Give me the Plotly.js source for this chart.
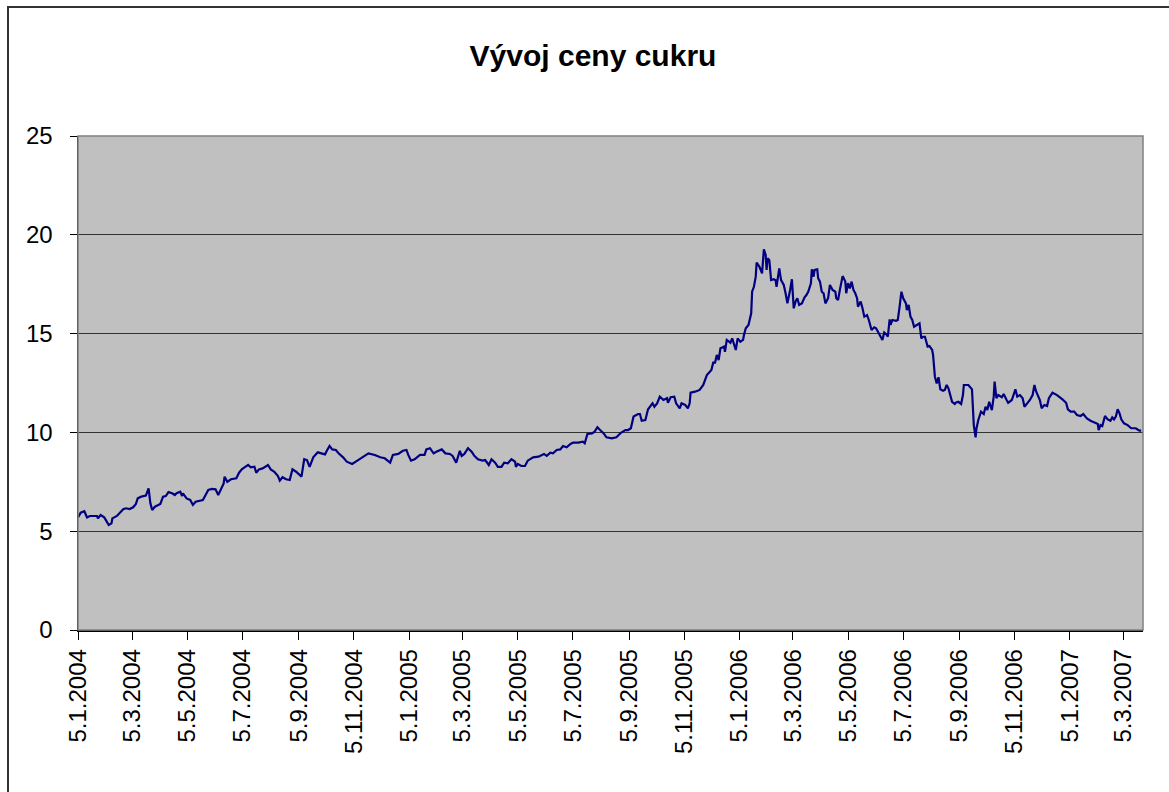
<!DOCTYPE html>
<html>
<head>
<meta charset="utf-8">
<script src="https://cdn.plot.ly/plotly-3.0.1.min.js"></script>
<style>
  html, body { margin: 0; padding: 0; background: #fff; }
  #chart { width: 1169px; height: 792px; }
</style>
</head>
<body>
<div id="chart"></div>
<script>
// cena cukru, values
const dates = [
  "2004-01-05","2004-01-08","2004-01-12","2004-01-15","2004-01-18","2004-01-26","2004-01-27","2004-01-30",
  "2004-02-03","2004-02-05","2004-02-08","2004-02-11","2004-02-12","2004-02-17","2004-02-20","2004-02-24","2004-02-27",
  "2004-03-02","2004-03-06","2004-03-09","2004-03-11","2004-03-15","2004-03-20","2004-03-23","2004-03-25","2004-03-27","2004-03-30",
  "2004-04-02","2004-04-05","2004-04-08","2004-04-11","2004-04-14","2004-04-18","2004-04-21","2004-04-23","2004-04-27","2004-04-29","2004-04-30",
  "2004-05-04","2004-05-08","2004-05-11","2004-05-14","2004-05-18","2004-05-22","2004-05-25","2004-05-28",
  "2004-06-01","2004-06-05","2004-06-08","2004-06-11","2004-06-14","2004-06-15","2004-06-18","2004-06-22","2004-06-28",
  "2004-07-01","2004-07-04","2004-07-07","2004-07-11","2004-07-14","2004-07-18","2004-07-20","2004-07-23","2004-07-27",
  "2004-08-02","2004-08-05","2004-08-09","2004-08-13","2004-08-15","2004-08-18","2004-08-22","2004-08-26","2004-08-29",
  "2004-09-02","2004-09-04","2004-09-08","2004-09-11","2004-09-14","2004-09-17","2004-09-21","2004-09-26","2004-09-30",
  "2004-10-04","2004-10-06","2004-10-09","2004-10-12","2004-10-16","2004-10-19","2004-10-24","2004-10-28",
  "2004-11-03","2004-11-07","2004-11-11","2004-11-17","2004-11-21","2004-11-28",
  "2004-12-04","2004-12-09","2004-12-12","2004-12-15","2004-12-18","2004-12-24","2004-12-29",
  "2005-01-02","2005-01-04","2005-01-07","2005-01-11","2005-01-17","2005-01-22","2005-01-24","2005-01-28",
  "2005-02-01","2005-02-04","2005-02-10","2005-02-14","2005-02-19","2005-02-22","2005-02-26",
  "2005-03-02","2005-03-04","2005-03-07","2005-03-11","2005-03-15","2005-03-18","2005-03-22","2005-03-27","2005-03-30",
  "2005-04-03","2005-04-06","2005-04-10","2005-04-13","2005-04-17","2005-04-20","2005-04-24","2005-04-28",
  "2005-05-02","2005-05-03","2005-05-05","2005-05-09","2005-05-13","2005-05-16","2005-05-22","2005-05-28",
  "2005-06-03","2005-06-06","2005-06-10","2005-06-13","2005-06-17","2005-06-21","2005-06-24","2005-06-28",
  "2005-07-02","2005-07-05","2005-07-11","2005-07-16","2005-07-18","2005-07-21","2005-07-26","2005-07-29",
  "2005-08-01","2005-08-04","2005-08-08","2005-08-11","2005-08-17","2005-08-22","2005-08-27",
  "2005-09-01","2005-09-04","2005-09-07","2005-09-10","2005-09-15","2005-09-17","2005-09-19","2005-09-23","2005-09-26",
  "2005-10-01","2005-10-03","2005-10-06","2005-10-09","2005-10-13","2005-10-17","2005-10-18","2005-10-21","2005-10-25","2005-10-27","2005-10-31",
  "2005-11-02","2005-11-06","2005-11-09","2005-11-11","2005-11-12","2005-11-17","2005-11-22","2005-11-26","2005-11-30",
  "2005-12-05","2005-12-07","2005-12-09","2005-12-11","2005-12-13","2005-12-15","2005-12-19","2005-12-20","2005-12-22","2005-12-26","2005-12-28",
  "2006-01-01","2006-01-03","2006-01-06","2006-01-09","2006-01-10","2006-01-12","2006-01-15","2006-01-16","2006-01-18","2006-01-19",
  "2006-01-21","2006-01-23","2006-01-24","2006-01-27","2006-01-30",
  "2006-02-01","2006-02-03","2006-02-04","2006-02-05","2006-02-07","2006-02-09","2006-02-12","2006-02-14","2006-02-15","2006-02-18",
  "2006-02-20","2006-02-23","2006-02-25","2006-02-27",
  "2006-03-02","2006-03-04","2006-03-06","2006-03-08","2006-03-10","2006-03-12","2006-03-15","2006-03-18","2006-03-20","2006-03-22",
  "2006-03-25","2006-03-26","2006-03-28","2006-03-29",
  "2006-04-01","2006-04-02","2006-04-04","2006-04-06","2006-04-08","2006-04-10","2006-04-13","2006-04-15","2006-04-18","2006-04-21",
  "2006-04-22","2006-04-24","2006-04-26","2006-04-29",
  "2006-05-02","2006-05-03","2006-05-05","2006-05-07","2006-05-09","2006-05-11","2006-05-13","2006-05-15","2006-05-16","2006-05-19",
  "2006-05-21","2006-05-23","2006-05-26","2006-05-28","2006-05-31",
  "2006-06-03","2006-06-05","2006-06-08","2006-06-10","2006-06-12","2006-06-14","2006-06-17","2006-06-18","2006-06-20","2006-06-21",
  "2006-06-23","2006-06-27","2006-06-29",
  "2006-07-01","2006-07-03","2006-07-05","2006-07-08","2006-07-09","2006-07-11","2006-07-13","2006-07-15","2006-07-17","2006-07-21",
  "2006-07-23","2006-07-25","2006-07-27","2006-07-29",
  "2006-08-01","2006-08-03","2006-08-06","2006-08-07","2006-08-09","2006-08-11","2006-08-13","2006-08-15","2006-08-18","2006-08-20",
  "2006-08-22","2006-08-24","2006-08-26","2006-08-28","2006-08-31",
  "2006-09-01","2006-09-04","2006-09-07","2006-09-09","2006-09-10","2006-09-15","2006-09-17","2006-09-19","2006-09-21","2006-09-23",
  "2006-09-24","2006-09-26","2006-09-29",
  "2006-10-02","2006-10-04","2006-10-06","2006-10-08","2006-10-11","2006-10-13","2006-10-14","2006-10-16","2006-10-18","2006-10-22",
  "2006-10-24","2006-10-27","2006-10-29",
  "2006-11-02","2006-11-04","2006-11-06","2006-11-08","2006-11-11","2006-11-14","2006-11-16","2006-11-19","2006-11-22","2006-11-25",
  "2006-11-27","2006-11-29",
  "2006-12-03","2006-12-05","2006-12-08","2006-12-11","2006-12-13","2006-12-17","2006-12-22","2006-12-28",
  "2007-01-01","2007-01-03","2007-01-06","2007-01-10","2007-01-13","2007-01-17","2007-01-20","2007-01-24","2007-01-28",
  "2007-02-02","2007-02-05","2007-02-06","2007-02-08","2007-02-10","2007-02-13","2007-02-16","2007-02-19","2007-02-21","2007-02-23",
  "2007-02-25","2007-02-27",
  "2007-03-01","2007-03-03","2007-03-06","2007-03-10","2007-03-14","2007-03-19","2007-03-23","2007-03-25"
];

const prices = [
  5.70,5.94,6.01,5.70,5.77,5.77,5.65,5.82,
  5.70,5.53,5.31,5.40,5.65,5.77,5.91,6.11,6.16,
  6.12,6.21,6.38,6.66,6.75,6.80,7.17,6.41,6.07,6.24,
  6.33,6.38,6.75,6.78,6.98,6.92,6.83,6.92,7.00,6.78,6.92,
  6.66,6.58,6.33,6.49,6.54,6.58,6.83,7.09,
  7.14,7.12,6.83,7.09,7.42,7.76,7.50,7.63,7.68,
  7.96,8.13,8.23,8.35,8.23,8.26,7.96,8.13,8.18,
  8.35,8.13,8.01,7.79,7.56,7.73,7.63,7.59,8.13,
  8.01,7.93,7.76,8.64,8.60,8.26,8.74,8.99,8.94,
  8.89,9.07,9.31,9.14,9.11,8.94,8.74,8.52,
  8.40,8.52,8.64,8.86,8.94,8.86,
  8.74,8.69,8.60,8.47,8.86,8.91,9.07,
  9.11,8.86,8.57,8.64,8.86,8.86,9.14,9.20,
  8.94,9.02,9.14,8.94,8.91,8.81,8.47,
  9.07,8.81,8.91,9.20,9.02,8.81,8.64,8.57,8.60,
  8.35,8.64,8.47,8.26,8.26,8.47,8.44,8.64,
  8.52,8.26,8.40,8.30,8.30,8.57,8.74,8.77,
  8.91,8.81,8.97,8.94,9.11,9.14,9.31,9.25,
  9.41,9.48,9.48,9.53,9.45,9.92,9.95,10.04,
  10.26,10.12,9.95,9.75,9.70,9.75,9.98,
  10.12,10.12,10.21,10.80,10.93,10.93,10.59,10.63,11.17,
  11.47,11.30,11.47,11.81,11.64,11.73,11.50,11.78,11.81,11.47,11.22,
  11.47,11.39,11.22,11.47,12.01,12.06,12.15,12.40,12.90,
  13.16,13.53,13.53,13.92,13.66,14.26,14.34,14.08,14.68,14.54,14.76,
  14.17,14.76,14.59,14.68,14.93,15.27,15.44,15.69,16.03,17.12,
  17.37,17.88,18.59,18.39,18.05,
  19.27,18.98,18.22,18.81,18.72,17.71,17.75,17.70,17.37,18.30,
  17.71,17.46,17.04,16.53,
  17.21,17.75,16.28,16.62,16.79,16.45,16.53,16.84,16.95,17.12,
  17.55,18.25,17.88,18.22,
  18.25,17.80,17.63,17.12,17.04,16.53,16.79,17.46,17.21,17.12,
  16.79,16.70,17.21,17.91,
  17.63,17.04,17.55,17.29,17.63,17.21,17.04,16.79,16.36,16.62,
  16.28,15.86,15.94,15.69,15.18,
  15.32,15.27,15.01,14.84,14.68,15.05,14.93,14.84,15.72,15.44,
  15.69,15.65,15.69,
  16.36,17.12,16.79,16.53,16.19,16.45,15.86,15.69,15.35,15.44,
  15.52,14.76,14.84,14.84,
  14.34,14.37,14.17,13.92,12.82,12.48,12.79,12.18,12.11,12.15,
  12.40,12.23,11.90,11.55,11.44,
  11.50,11.55,11.44,11.89,12.40,12.40,12.31,12.18,10.37,9.75,
  10.21,10.63,11.05,
  10.93,11.30,11.13,11.55,11.13,11.81,12.57,11.73,11.89,11.78,
  11.94,11.67,11.50,
  11.64,11.89,12.18,11.81,11.89,11.73,11.30,11.47,11.64,11.89,
  12.40,12.06,
  11.64,11.22,11.39,11.34,11.73,12.01,11.89,11.67,
  11.50,11.17,11.05,11.05,10.88,10.83,10.93,10.71,10.59,
  10.49,10.43,10.12,10.37,10.32,10.83,10.66,10.59,10.76,10.66,
  10.80,11.17,
  10.97,10.66,10.46,10.37,10.21,10.21,10.09,10.09
];

const yTicks = [0, 5, 10, 15, 20, 25];

const font = "Liberation Sans, Arial, sans-serif";

const trace = {
  x: dates,
  y: prices,
  type: "scatter",
  mode: "lines",
  line: { color: "#000080", width: 2.2 },
  hoverinfo: "x+y"
};

const layout = {
  width: 1169,
  height: 792,
  margin: { l: 78, r: 26, t: 136, b: 162 },
  paper_bgcolor: "#ffffff",
  plot_bgcolor: "#c0c0c0",
  showlegend: false,
  font: { family: font, color: "#000000", size: 22 },
  title: {
    text: "<b>Vývoj ceny cukru</b>",
    font: { family: font, size: 30, color: "#000000" },
    xref: "container", x: 593 / 1169, xanchor: "center",
    yref: "container", y: 1 - 55 / 792, yanchor: "middle"
  },
  xaxis: {
    type: "date",
    range: ["2004-01-05", "2007-03-27"],
    tickmode: "linear",
    tick0: "2004-01-05",
    dtick: "M2",
    tickformat: "%-d.%-m.%Y",
    tickangle: -90,
    ticks: "outside",
    ticklen: 8,
    tickwidth: 1,
    tickcolor: "#000000",
    showgrid: false,
    showline: true,
    linecolor: "#000000",
    linewidth: 1.5,
    zeroline: false,
    tickfont: { family: font, size: 24, color: "#000000" }
  },
  yaxis: {
    range: [0, 25],
    tickmode: "array",
    tickvals: yTicks,
    ticktext: yTicks.map(String),
    ticks: "outside",
    ticklen: 7,
    tickwidth: 1,
    tickcolor: "#000000",
    ticklabelstandoff: 12,
    showgrid: true,
    gridcolor: "#333333",
    gridwidth: 1,
    showline: true,
    linecolor: "#000000",
    linewidth: 1.5,
    zeroline: false,
    tickfont: { family: font, size: 24, color: "#000000" }
  },
  shapes: [
    // plot area frame (top and right edge)
    {
      type: "rect", xref: "paper", yref: "paper",
      x0: 0, x1: 1, y0: 0, y1: 1,
      line: { color: "#808080", width: 1.5 },
      layer: "above"
    },
    // outer chart border
    {
      type: "rect", xref: "paper", yref: "paper",
      x0: (8 - 78) / 1065, x1: (1180 - 78) / 1065,
      y0: (630 - 800) / 494, y1: (630 - 7) / 494,
      line: { color: "#333333", width: 2 },
      layer: "above"
    }
  ]
};

Plotly.newPlot("chart", [trace], layout, { displayModeBar: false, staticPlot: true });
</script>
</body>
</html>
